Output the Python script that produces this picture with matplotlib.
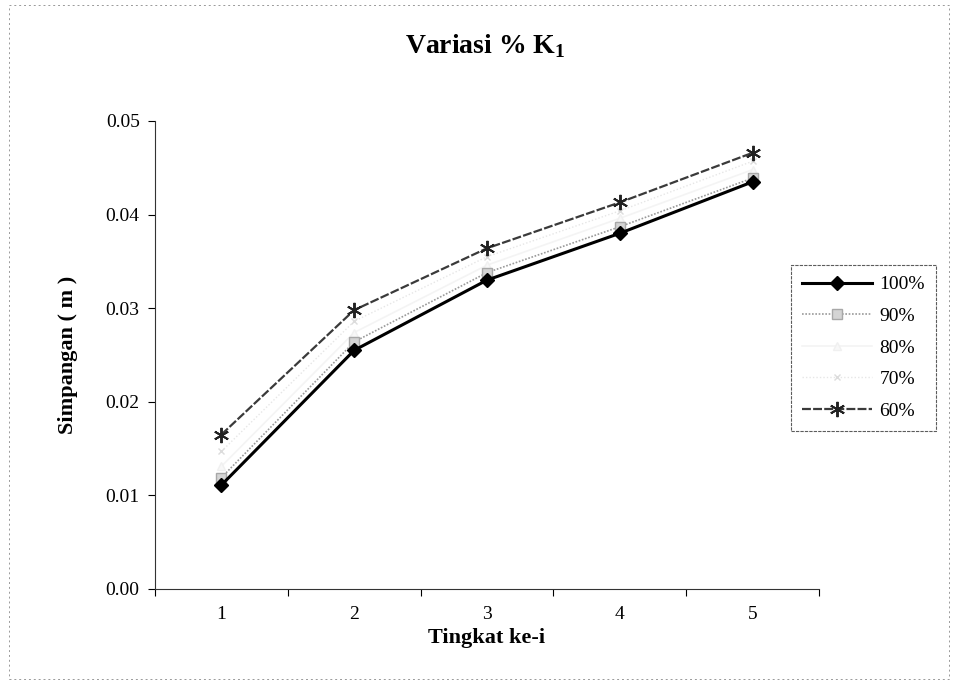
import matplotlib
matplotlib.use("Agg")
import matplotlib.pyplot as plt
from matplotlib.patches import Rectangle

# ==================== 数据 ====================
tingkat = [1, 2, 3, 4, 5]
tick_labels = ["1", "2", "3", "4", "5"]
seri_labels = ["100%", "90%", "80%", "70%", "60%"]

k100 = [0.0111, 0.0255, 0.0330, 0.0380, 0.0435]
k90 = [0.0119, 0.0264, 0.0338, 0.0387, 0.0439]
k80 = [0.0131, 0.0274, 0.0346, 0.0396, 0.0448]
k70 = [0.0147, 0.0286, 0.0355, 0.0404, 0.0457]
k60 = [0.0165, 0.0298, 0.0364, 0.0413, 0.0466]

y_ticks = [0.00, 0.01, 0.02, 0.03, 0.04, 0.05]

# ==================== 样式 ====================
plt.rcParams["font.family"] = ["Liberation Serif", "DejaVu Serif"]
plt.rcParams["mathtext.fontset"] = "custom"
plt.rcParams["mathtext.rm"] = "Liberation Serif"
plt.rcParams["mathtext.bf"] = "Liberation Serif:bold"

fig = plt.figure(figsize=(9.55, 6.82), dpi=100)
ax = fig.add_axes([0.1623, 0.1364, 0.6953, 0.6862])

# 外框（虚线）
fig.patches.append(Rectangle((0.009, 0.004), 0.985, 0.989, transform=fig.transFigure,
                             fill=False, edgecolor="#999999", linewidth=0.7,
                             linestyle=(0, (2, 3))))

ax.plot(tingkat, k100, color="black", linewidth=2.2, marker="D", markersize=7,
        markerfacecolor="black", markeredgecolor="black", label=seri_labels[0], zorder=5)
ax.plot(tingkat, k90, color="#9a9a9a", linewidth=1.2, linestyle=(0, (1, 1)), marker="s",
        markersize=7, markerfacecolor="#d4d4d4", markeredgecolor="#a8a8a8",
        label=seri_labels[1], zorder=4)
ax.plot(tingkat, k80, color="#f4f4f4", linewidth=1.2, marker="^", markersize=6,
        markerfacecolor="#f8f8f8", markeredgecolor="#f0f0f0", label=seri_labels[2], zorder=3)
ax.plot(tingkat, k70, color="#e6e6e6", linewidth=1.0, linestyle=(0, (1, 1.5)), marker="x",
        markersize=5, markeredgecolor="#dcdcdc", label=seri_labels[3], zorder=3)
ax.plot(tingkat, k60, color="#3a3a3a", linewidth=1.6, linestyle=(0, (4, 1)), marker=(6, 2, 0),
        markersize=11, markeredgecolor="#222222", markeredgewidth=1.4,
        label=seri_labels[4], zorder=6)

# 坐标轴
ax.set_xlim(0.5, 5.5)
ax.set_ylim(0, 0.05)
ax.set_xticks(tingkat)
ax.set_xticklabels(tick_labels)
ax.set_xticks([0.5, 1.5, 2.5, 3.5, 4.5, 5.5], minor=True)
ax.tick_params(axis="x", which="major", length=0, pad=12, labelsize=14)
ax.tick_params(axis="x", which="minor", length=5, direction="out", width=0.8)
ax.set_yticks(y_ticks)
ax.set_yticklabels([f"{v:.2f}" for v in y_ticks])
ax.tick_params(axis="y", length=5, direction="out", width=0.8, labelsize=14, pad=6)

for side in ("top", "right"):
    ax.spines[side].set_visible(False)
for side in ("left", "bottom"):
    ax.spines[side].set_linewidth(0.8)
    ax.spines[side].set_color("#333333")

ax.set_xlabel("Tingkat ke-i", fontsize=16, fontweight="bold", labelpad=4)
ax.set_ylabel("Simpangan ( m )", fontsize=16, fontweight="bold", labelpad=20)

fig.text(0.508, 0.932, r"Variasi % K$_{\mathbf{1}}$", fontsize=20, fontweight="bold",
         ha="center", va="center")

leg = ax.legend(loc="center left", bbox_to_anchor=(0.818, 0.49),
                bbox_transform=fig.transFigure, fontsize=14, frameon=True,
                fancybox=False, handlelength=3.6, labelspacing=0.72,
                borderpad=0.55, handletextpad=0.4)
leg.get_frame().set_edgecolor("#333333")
leg.get_frame().set_linewidth(0.8)
leg.get_frame().set_linestyle((0, (3, 1)))

fig.savefig("out.png", dpi=100)
